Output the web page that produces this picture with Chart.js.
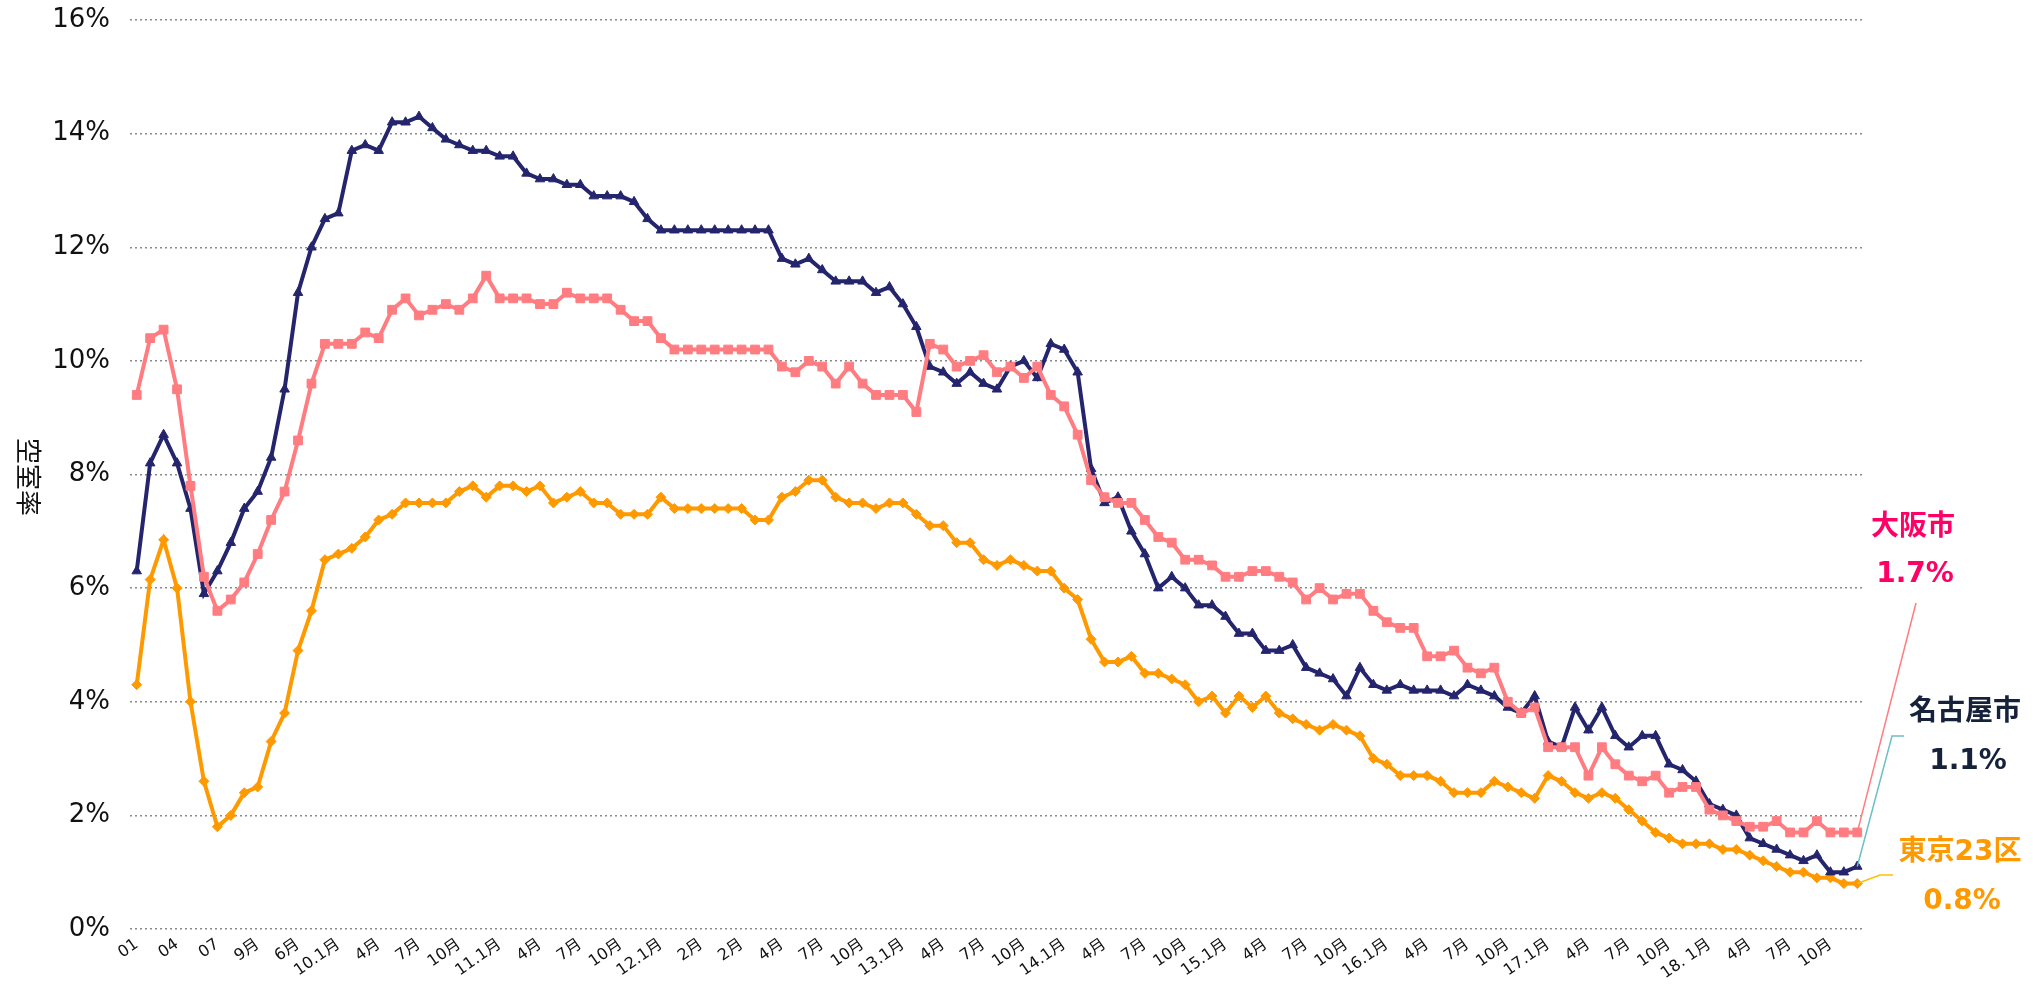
<!DOCTYPE html>
<html lang="ja">
<head>
<meta charset="utf-8">
<script src="https://cdn.jsdelivr.net/npm/chart.js@4.4.0/dist/chart.umd.min.js"></script>
<style>
  html, body { margin: 0; padding: 0; background: #fff; }
  #wrap { width: 2033px; height: 986px; }
</style>
</head>
<body>
<div id="wrap"><canvas id="vacancyChart" width="2033" height="986"></canvas></div>
<script>
// x-axis tick labels, one every 3 months
const tickLabels = ['01','04','07','9月','6月','10.1月','4月','7月','10月','11.1月','4月','7月','10月',
  '12.1月','2月','2月','4月','7月','10月','13.1月','4月','7月','10月','14.1月','4月','7月','10月',
  '15.1月','4月','7月','10月','16.1月','4月','7月','10月','17.1月','4月','7月','10月','18. 1月',
  '4月','7月','10月'];

// 名古屋市
const nagoya = [6.3,8.2,8.7,8.2,7.4,5.9,6.3,6.8,7.4,7.7,8.3,9.5,11.2,12.0,12.5,12.6,13.7,13.8,13.7,14.2,
  14.2,14.3,14.1,13.9,13.8,13.7,13.7,13.6,13.6,13.3,13.2,13.2,13.1,13.1,12.9,12.9,12.9,12.8,12.5,12.3,
  12.3,12.3,12.3,12.3,12.3,12.3,12.3,12.3,11.8,11.7,11.8,11.6,11.4,11.4,11.4,11.2,11.3,11.0,10.6,9.9,
  9.8,9.6,9.8,9.6,9.5,9.9,10.0,9.7,10.3,10.2,9.8,8.1,7.5,7.6,7.0,6.6,6.0,6.2,6.0,5.7,
  5.7,5.5,5.2,5.2,4.9,4.9,5.0,4.6,4.5,4.4,4.1,4.6,4.3,4.2,4.3,4.2,4.2,4.2,4.1,4.3,
  4.2,4.1,3.9,3.8,4.1,3.3,3.2,3.9,3.5,3.9,3.4,3.2,3.4,3.4,2.9,2.8,2.6,2.2,2.1,2.0,
  1.6,1.5,1.4,1.3,1.2,1.3,1.0,1.0,1.1];

// 大阪市
const osaka = [9.4,10.4,10.55,9.5,7.8,6.2,5.6,5.8,6.1,6.6,7.2,7.7,8.6,9.6,10.3,10.3,10.3,10.5,10.4,10.9,
  11.1,10.8,10.9,11.0,10.9,11.1,11.5,11.1,11.1,11.1,11.0,11.0,11.2,11.1,11.1,11.1,10.9,10.7,10.7,10.4,
  10.2,10.2,10.2,10.2,10.2,10.2,10.2,10.2,9.9,9.8,10.0,9.9,9.6,9.9,9.6,9.4,9.4,9.4,9.1,10.3,
  10.2,9.9,10.0,10.1,9.8,9.9,9.7,9.9,9.4,9.2,8.7,7.9,7.6,7.5,7.5,7.2,6.9,6.8,6.5,6.5,
  6.4,6.2,6.2,6.3,6.3,6.2,6.1,5.8,6.0,5.8,5.9,5.9,5.6,5.4,5.3,5.3,4.8,4.8,4.9,4.6,
  4.5,4.6,4.0,3.8,3.9,3.2,3.2,3.2,2.7,3.2,2.9,2.7,2.6,2.7,2.4,2.5,2.5,2.1,2.0,1.9,
  1.8,1.8,1.9,1.7,1.7,1.9,1.7,1.7,1.7];

// 東京23区
const tokyo = [4.3,6.15,6.85,6.0,4.0,2.6,1.8,2.0,2.4,2.5,3.3,3.8,4.9,5.6,6.5,6.6,6.7,6.9,7.2,7.3,
  7.5,7.5,7.5,7.5,7.7,7.8,7.6,7.8,7.8,7.7,7.8,7.5,7.6,7.7,7.5,7.5,7.3,7.3,7.3,7.6,
  7.4,7.4,7.4,7.4,7.4,7.4,7.2,7.2,7.6,7.7,7.9,7.9,7.6,7.5,7.5,7.4,7.5,7.5,7.3,7.1,
  7.1,6.8,6.8,6.5,6.4,6.5,6.4,6.3,6.3,6.0,5.8,5.1,4.7,4.7,4.8,4.5,4.5,4.4,4.3,4.0,
  4.1,3.8,4.1,3.9,4.1,3.8,3.7,3.6,3.5,3.6,3.5,3.4,3.0,2.9,2.7,2.7,2.7,2.6,2.4,2.4,
  2.4,2.6,2.5,2.4,2.3,2.7,2.6,2.4,2.3,2.4,2.3,2.1,1.9,1.7,1.6,1.5,1.5,1.5,1.4,1.4,
  1.3,1.2,1.1,1.0,1.0,0.9,0.9,0.8,0.8];

const categories = nagoya.map((v, i) => (i % 3 === 0 ? (tickLabels[i / 3] || '') : ''));

const FONT = "'DejaVu Sans', 'Noto Sans CJK JP', sans-serif";

// right-hand labels with leader lines
const callouts = [
  { ds: 0, name: '大阪市', color: '#FF0066', line: '#FF7C80', nameXY: [1913, 528], valXY: [1915, 575], path: [[1916, 603]] },
  { ds: 1, name: '名古屋市', color: '#16213A', line: '#6CBFC6', nameXY: [1965, 713], valXY: [1968, 762], path: [[1892, 736], [1904, 736]] },
  { ds: 2, name: '東京23区', color: '#FF9900', line: '#FFC000', nameXY: [1960, 853], valXY: [1962, 902], path: [[1880, 875], [1893, 875]] }
];

const calloutPlugin = {
  id: 'callouts',
  afterDatasetsDraw(chart) {
    const ctx = chart.ctx;
    ctx.save();
    callouts.forEach(c => {
      const pts = chart.getDatasetMeta(c.ds).data;
      const last = pts[pts.length - 1];
      ctx.strokeStyle = c.line;
      ctx.lineWidth = 1.5;
      ctx.beginPath();
      ctx.moveTo(last.x, last.y);
      c.path.forEach(p => ctx.lineTo(p[0], p[1]));
      ctx.stroke();

      const values = chart.data.datasets[c.ds].data;
      ctx.fillStyle = c.color;
      ctx.font = 'bold 28px ' + FONT;
      ctx.textAlign = 'center';
      ctx.textBaseline = 'middle';
      ctx.fillText(c.name, c.nameXY[0], c.nameXY[1]);
      ctx.fillText(values[values.length - 1].toFixed(1) + '%', c.valXY[0], c.valXY[1]);
    });

    // y axis title, turned clockwise
    ctx.translate(26, 477);
    ctx.rotate(Math.PI / 2);
    ctx.fillStyle = '#111';
    ctx.font = '26px ' + FONT;
    ctx.textAlign = 'center';
    ctx.textBaseline = 'middle';
    ctx.fillText('空室率', 0, 0);
    ctx.restore();
  }
};

function series(label, data, color, style, radius) {
  return {
    label: label,
    data: data,
    borderColor: color,
    backgroundColor: color,
    borderWidth: 4,
    pointStyle: style,
    pointRadius: radius,
    pointBorderWidth: 1,
    tension: 0
  };
}

new Chart(document.getElementById('vacancyChart'), {
  type: 'line',
  data: {
    labels: categories,
    datasets: [
      series('大阪市', osaka, '#FF7C80', 'rect', 6.2),
      series('名古屋市', nagoya, '#25256E', 'triangle', 5.5),
      series('東京23区', tokyo, '#FF9900', 'rectRot', 5)
    ]
  },
  options: {
    responsive: false,
    animation: false,
    devicePixelRatio: 1,
    layout: { padding: { left: 40, right: 169, top: 20, bottom: 0 } },
    plugins: { legend: { display: false }, tooltip: { enabled: false } },
    scales: {
      x: {
        offset: true,
        grid: { display: false, drawTicks: false },
        border: { display: false },
        ticks: {
          autoSkip: false,
          minRotation: 35,
          maxRotation: 35,
          padding: 6,
          color: '#111',
          font: { family: FONT, size: 16 }
        },
        afterFit(scale) { scale.height = 57; }
      },
      y: {
        min: 0,
        max: 16,
        grid: { color: '#8a8a8a', lineWidth: 1.5, drawTicks: false },
        border: { display: false, dash: [2, 3] },
        ticks: {
          stepSize: 2,
          padding: 20,
          color: '#111',
          font: { family: FONT, size: 26 },
          callback: v => v + '%'
        },
        afterFit(scale) {
          scale.width = 90;
          scale.paddingTop = 0;
          scale.paddingBottom = 0;
        }
      }
    }
  },
  plugins: [calloutPlugin]
});
</script>
</body>
</html>
